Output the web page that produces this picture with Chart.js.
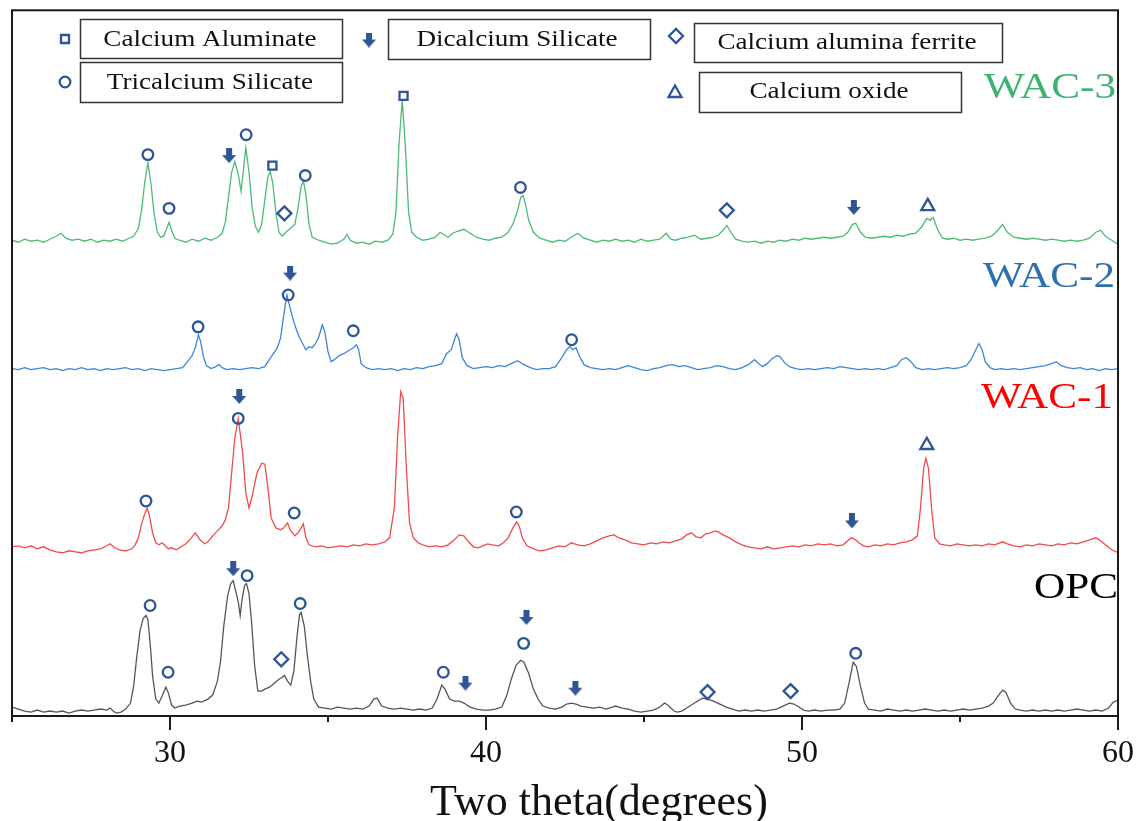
<!DOCTYPE html>
<html><head><meta charset="utf-8">
<script src="https://cdn.jsdelivr.net/npm/chart.js@4.4.1/dist/chart.umd.min.js"></script>
<style>html,body{margin:0;padding:0;background:#fff;}#wrap{width:1147px;height:821px;position:relative;}</style>
</head><body><div id="wrap"><canvas id="c"></canvas></div>
<script>
// ---------- DATA ----------
// two-theta (deg), relative intensity above each pattern's own baseline
const opc = [[25,4],[25.2,2],[25.4,0],[25.6,-1],[25.8,1],[26,-1],[26.2,0],[26.4,-1],[26.6,0],[26.8,-2],[27,0],[27.2,1],[27.4,0],[27.6,1],[27.8,2],[28.0,1],[28.1,3],[28.2,0],[28.3,-2],[28.45,-1],[28.6,2],[28.75,8],[28.85,25],[28.95,55],[29.05,80],[29.15,93],[29.24,96],[29.3,92],[29.38,65],[29.45,35],[29.55,12],[29.65,8],[29.75,15],[29.87,24],[29.95,18],[30.05,6],[30.15,3],[30.3,5],[30.5,6],[30.7,8],[30.85,10],[31.0,9],[31.2,12],[31.35,16],[31.5,30],[31.6,50],[31.7,85],[31.82,115],[31.92,128],[32.0,131],[32.1,118],[32.17,108],[32.22,96],[32.28,112],[32.36,126],[32.42,128],[32.5,118],[32.58,90],[32.68,45],[32.78,20],[32.9,20],[33.0,22],[33.15,24],[33.3,28],[33.45,32],[33.55,34],[33.62,36],[33.72,30],[33.82,26],[33.92,40],[34.02,75],[34.1,97],[34.15,99],[34.25,85],[34.35,55],[34.45,30],[34.55,12],[34.7,4],[34.9,3],[35.1,2],[35.3,4],[35.5,3],[35.7,2],[35.9,3],[36.1,2],[36.3,5],[36.45,12],[36.55,13],[36.7,5],[36.9,3],[37.1,2],[37.3,3],[37.5,2],[37.7,1],[37.9,2],[38.1,1],[38.3,3],[38.45,12],[38.6,26],[38.7,22],[38.85,12],[39.0,10],[39.15,10],[39.3,8],[39.5,4],[39.7,2],[39.9,1],[40.1,1],[40.3,2],[40.5,4],[40.65,15],[40.8,32],[40.95,46],[41.1,51],[41.2,49],[41.35,38],[41.5,22],[41.65,12],[41.8,5],[42.0,3],[42.2,2],[42.4,4],[42.55,7],[42.7,8],[42.85,7],[43.0,5],[43.2,4],[43.4,3],[43.6,4],[43.8,2],[44.0,4],[44.1,5],[44.3,3],[44.5,2],[44.7,0],[44.9,-1],[45.1,0],[45.3,1],[45.5,4],[45.65,8],[45.75,6],[45.85,3],[45.95,0],[46.05,-1],[46.2,0],[46.35,3],[46.5,6],[46.65,9],[46.85,13],[47.0,12],[47.2,10],[47.4,7],[47.6,4],[47.8,2],[48.0,0],[48.2,1],[48.4,0],[48.6,1],[48.8,0],[49.0,1],[49.2,2],[49.4,5],[49.6,8],[49.75,7],[49.9,4],[50.05,1],[50.2,0],[50.4,1],[50.6,0],[50.8,1],[51.0,1],[51.2,2],[51.35,8],[51.5,30],[51.62,49],[51.72,45],[51.85,25],[51.98,8],[52.1,2],[52.3,1],[52.5,0],[52.7,2],[52.9,1],[53.1,0],[53.3,1],[53.5,0],[53.7,1],[53.9,2],[54.1,1],[54.3,0],[54.5,1],[54.7,0],[54.9,1],[55.1,2],[55.3,1],[55.5,2],[55.7,3],[55.9,5],[56.05,8],[56.2,15],[56.35,21],[56.45,19],[56.6,8],[56.75,2],[56.9,1],[57.1,0],[57.3,1],[57.5,0],[57.7,1],[57.9,0],[58.1,1],[58.3,0],[58.5,1],[58.7,2],[58.9,1],[59.1,0],[59.3,1],[59.5,0],[59.7,3],[59.85,9],[60,11]];

const wac1 = [[25,1],[25.2,2],[25.4,0],[25.6,2],[25.8,-1],[26,1],[26.2,-2],[26.4,-4],[26.6,-5],[26.8,-3],[27,-4],[27.2,-5],[27.4,-3],[27.6,-2],[27.8,-1],[28.0,2],[28.1,4],[28.25,0],[28.4,-2],[28.6,-3],[28.8,-1],[28.9,3],[29.0,10],[29.1,24],[29.2,34],[29.28,40],[29.35,32],[29.45,15],[29.55,5],[29.65,3],[29.75,5],[29.85,2],[29.95,-1],[30.05,0],[30.2,-2],[30.35,1],[30.5,4],[30.65,9],[30.8,15],[30.95,8],[31.1,4],[31.2,6],[31.35,12],[31.5,17],[31.65,22],[31.75,28],[31.85,40],[31.95,75],[32.05,110],[32.16,130],[32.3,95],[32.4,55],[32.5,40],[32.6,52],[32.75,75],[32.9,85],[33.0,84],[33.1,60],[33.2,30],[33.35,20],[33.5,18],[33.6,20],[33.72,25],[33.8,18],[33.95,12],[34.05,15],[34.15,20],[34.22,24],[34.3,10],[34.4,3],[34.6,1],[34.8,2],[35.0,0],[35.2,1],[35.4,2],[35.6,1],[35.8,3],[36.0,2],[36.2,4],[36.4,3],[36.6,4],[36.8,6],[36.95,10],[37.1,40],[37.2,110],[37.3,157],[37.38,150],[37.48,80],[37.58,25],[37.7,10],[37.85,5],[38.0,3],[38.2,1],[38.4,2],[38.6,1],[38.8,3],[39.0,8],[39.15,13],[39.3,12],[39.45,6],[39.6,1],[39.75,0],[39.9,2],[40.05,4],[40.2,3],[40.4,2],[40.55,5],[40.7,10],[40.85,20],[40.97,26],[41.05,22],[41.15,10],[41.3,2],[41.5,-1],[41.7,-3],[41.9,-2],[42.1,0],[42.3,2],[42.5,1],[42.7,5],[42.9,3],[43.1,2],[43.3,4],[43.5,7],[43.7,10],[43.9,12],[44.05,13],[44.2,10],[44.4,8],[44.6,5],[44.8,4],[45.0,3],[45.2,5],[45.4,4],[45.6,6],[45.8,5],[46.0,7],[46.2,9],[46.35,13],[46.5,15],[46.65,11],[46.8,10],[46.95,14],[47.1,15],[47.25,17],[47.35,16],[47.5,13],[47.7,10],[47.9,6],[48.1,3],[48.3,1],[48.5,0],[48.7,-1],[48.9,1],[49.1,-1],[49.3,0],[49.5,1],[49.7,2],[49.9,1],[50.1,3],[50.3,2],[50.5,4],[50.7,3],[50.9,4],[51.1,2],[51.3,3],[51.45,7],[51.55,10],[51.65,9],[51.8,5],[51.95,2],[52.1,1],[52.3,3],[52.5,2],[52.7,4],[52.9,3],[53.1,5],[53.3,6],[53.5,8],[53.65,12],[53.75,40],[53.85,80],[53.92,90],[54.0,80],[54.1,40],[54.2,10],[54.35,4],[54.5,3],[54.7,2],[54.9,4],[55.1,3],[55.3,2],[55.5,3],[55.7,2],[55.9,4],[56.1,3],[56.35,6],[56.5,4],[56.7,2],[56.9,1],[57.1,3],[57.3,2],[57.5,4],[57.7,3],[57.9,2],[58.1,4],[58.3,3],[58.5,5],[58.7,4],[58.9,6],[59.1,8],[59.3,10],[59.45,7],[59.6,3],[59.8,-2],[60,-5]];

const wac2 = [[25,1],[25.2,0],[25.4,2],[25.6,0],[25.8,1],[26,2],[26.2,0],[26.4,1],[26.6,-1],[26.8,1],[27,0],[27.2,2],[27.4,0],[27.6,1],[27.8,-1],[28,1],[28.2,0],[28.4,1],[28.6,2],[28.8,0],[29,1],[29.2,-1],[29.4,1],[29.6,0],[29.8,-1],[30,0],[30.2,1],[30.4,2],[30.55,8],[30.7,14],[30.8,22],[30.9,35],[30.97,28],[31.05,14],[31.15,4],[31.3,1],[31.45,3],[31.55,5],[31.65,2],[31.8,0],[32,1],[32.2,0],[32.4,1],[32.6,2],[32.8,1],[33.0,3],[33.1,8],[33.25,15],[33.4,22],[33.5,32],[33.6,55],[33.7,75],[33.8,62],[33.9,50],[34.0,40],[34.1,32],[34.2,26],[34.3,20],[34.4,23],[34.5,22],[34.6,26],[34.7,32],[34.82,45],[34.9,38],[35.0,18],[35.1,8],[35.2,10],[35.35,14],[35.5,16],[35.65,19],[35.8,22],[35.9,25],[35.97,20],[36.05,6],[36.2,2],[36.4,0],[36.6,1],[36.8,0],[37.0,1],[37.2,-1],[37.4,1],[37.6,0],[37.8,2],[38.0,1],[38.2,3],[38.4,4],[38.6,6],[38.75,16],[38.9,20],[39.0,30],[39.07,36],[39.15,30],[39.25,12],[39.4,4],[39.6,1],[39.8,2],[40.0,3],[40.2,2],[40.4,4],[40.6,3],[40.8,6],[41.0,9],[41.2,5],[41.4,2],[41.6,0],[41.8,1],[42.0,1],[42.2,3],[42.4,12],[42.55,20],[42.65,23],[42.75,20],[42.85,22],[42.95,14],[43.1,5],[43.3,2],[43.5,1],[43.7,0],[43.9,1],[44.1,0],[44.3,2],[44.5,4],[44.7,2],[44.9,0],[45.1,-1],[45.3,1],[45.5,2],[45.7,4],[45.9,5],[46.1,3],[46.3,4],[46.5,2],[46.7,0],[46.9,1],[47.1,2],[47.3,4],[47.5,3],[47.7,1],[47.9,0],[48.1,2],[48.3,5],[48.5,10],[48.6,7],[48.75,3],[48.9,6],[49.05,11],[49.2,14],[49.3,13],[49.45,7],[49.6,3],[49.8,1],[50.0,0],[50.2,1],[50.4,0],[50.6,1],[50.8,2],[51.0,1],[51.2,3],[51.4,2],[51.6,1],[51.8,0],[52.0,1],[52.2,0],[52.4,1],[52.6,0],[52.8,2],[53.0,4],[53.15,10],[53.3,12],[53.45,8],[53.6,2],[53.8,0],[54.0,1],[54.2,0],[54.4,1],[54.6,2],[54.8,1],[55.0,2],[55.2,4],[55.35,10],[55.5,20],[55.6,26],[55.7,20],[55.8,8],[55.95,2],[56.1,0],[56.3,1],[56.5,0],[56.7,1],[56.9,0],[57.1,1],[57.3,2],[57.5,3],[57.7,4],[57.9,6],[58.05,8],[58.2,4],[58.4,2],[58.6,1],[58.8,2],[59.0,0],[59.2,1],[59.4,-1],[59.6,1],[59.8,0],[60,1]];

const wac3 = [[25,2],[25.2,0],[25.4,3],[25.6,1],[25.8,2],[26,0],[26.2,3],[26.4,6],[26.55,9],[26.7,4],[26.9,2],[27.1,3],[27.3,1],[27.5,3],[27.7,0],[27.9,2],[28.1,1],[28.3,3],[28.5,1],[28.7,4],[28.85,6],[29.0,14],[29.1,32],[29.2,60],[29.3,80],[29.4,58],[29.5,28],[29.6,10],[29.7,5],[29.8,6],[29.9,14],[29.97,20],[30.05,12],[30.15,4],[30.3,2],[30.5,0],[30.7,3],[30.9,1],[31.1,4],[31.3,2],[31.5,5],[31.65,9],[31.75,20],[31.85,45],[31.95,70],[32.05,81],[32.15,70],[32.25,51],[32.33,75],[32.4,95],[32.5,70],[32.6,35],[32.7,16],[32.8,10],[32.9,18],[33.0,42],[33.1,66],[33.17,71],[33.25,60],[33.35,30],[33.45,10],[33.55,6],[33.7,11],[33.85,15],[33.95,18],[34.05,34],[34.15,56],[34.22,62],[34.3,48],[34.4,18],[34.5,5],[34.7,2],[34.9,0],[35.1,-2],[35.3,-1],[35.5,3],[35.6,8],[35.7,2],[35.9,-1],[36.1,0],[36.3,-2],[36.5,1],[36.7,0],[36.9,2],[37.05,8],[37.15,30],[37.25,100],[37.35,143],[37.45,95],[37.55,30],[37.65,10],[37.8,5],[38.0,2],[38.2,3],[38.4,5],[38.55,10],[38.65,8],[38.8,5],[38.95,9],[39.1,11],[39.3,13],[39.5,9],[39.7,5],[39.9,3],[40.1,2],[40.3,4],[40.5,5],[40.7,10],[40.85,18],[41.0,32],[41.1,45],[41.17,47],[41.25,38],[41.35,22],[41.5,10],[41.7,4],[41.9,2],[42.1,0],[42.3,2],[42.5,1],[42.7,5],[42.9,9],[43.1,4],[43.3,2],[43.5,0],[43.7,2],[43.9,1],[44.1,3],[44.3,1],[44.5,2],[44.7,0],[44.9,3],[45.1,1],[45.3,2],[45.5,3],[45.7,9],[45.85,3],[46.0,2],[46.2,4],[46.4,5],[46.6,7],[46.8,3],[47.0,4],[47.2,5],[47.35,7],[47.5,12],[47.62,17],[47.75,10],[47.9,3],[48.1,1],[48.3,0],[48.5,1],[48.7,-1],[48.9,1],[49.1,0],[49.3,2],[49.5,1],[49.7,3],[49.9,2],[50.1,4],[50.3,3],[50.5,4],[50.7,5],[50.9,4],[51.1,5],[51.3,6],[51.45,10],[51.6,18],[51.7,19],[51.85,10],[52.0,5],[52.2,4],[52.4,5],[52.6,6],[52.8,5],[53.0,7],[53.2,6],[53.4,8],[53.6,9],[53.8,16],[53.95,24],[54.05,22],[54.15,25],[54.3,12],[54.45,4],[54.6,3],[54.8,4],[55.0,2],[55.2,3],[55.4,2],[55.6,3],[55.8,4],[56.0,6],[56.2,12],[56.35,18],[56.5,10],[56.7,5],[56.9,4],[57.1,3],[57.3,4],[57.5,3],[57.7,2],[57.9,3],[58.1,2],[58.3,1],[58.5,2],[58.7,1],[58.9,2],[59.1,4],[59.3,10],[59.45,12],[59.6,6],[59.8,2],[60,-2]];

// vertical stacking offsets of each pattern
const seriesNames = ['WAC-3', 'WAC-2', 'WAC-1', 'OPC'];
const seriesData = [wac3, wac2, wac1, opc];
const seriesOffsets = [476, 348, 169, 5];

// phase markers: [two-theta, stacked height]
const circleMarks = [[29.3,564],[29.97,510],[32.41,584],[34.28,543],[41.09,531],[30.89,391],[33.74,423],[35.8,387],[42.71,378],[29.24,216],[32.16,299],[33.93,204],[40.96,205],[29.37,111],[29.94,44],[32.44,141],[34.12,113],[38.65,44],[41.19,73],[51.7,63]];
const squareMarks = [[33.24,553],[37.39,623]];
const diamondMarks = [[33.62,505],[47.62,508],[33.52,57],[47.01,24],[49.64,25]];
const triangleMarks = [[53.98,512],[53.95,272]];
const arrowMarks = [[31.87,563],[51.64,511],[33.8,445],[32.19,321],[51.58,196],[32.0,148],[39.35,33],[41.28,99],[42.83,28]];

const legendLabels = ['Calcium Aluminate', 'Dicalcium Silicate', 'Calcium alumina ferrite', 'Tricalcium Silicate', 'Calcium oxide'];
const legendSymbols = ['rect', 'arrow', 'rectRot', 'circle', 'triangle'];

const xTickValues = [25, 30, 35, 40, 45, 50, 55, 60];
const xTickLabels = [30, 40, 50, 60];
const xTitle = 'Two theta(degrees)';

// ---------- STYLE ----------
const MARK = '#2f5597';
const lineColors = ['#4dbb78', '#3d85dc', '#f24a4a', '#555555'];
const labelColors = ['#3cb371', '#2e6fae', '#ff0000', '#000000'];
const SERIF = '"Liberation Serif", "Times New Roman", serif';
const legendLayout = [
  {x:80, y:19, w:262, h:39, mx:65, my:39, tx:210, ty:46},
  {x:388, y:19, w:262, h:40, mx:369, my:40, tx:517, ty:46},
  {x:694, y:23, w:308, h:39, mx:676, my:36, tx:847, ty:49},
  {x:80, y:62, w:262, h:40, mx:65, my:82, tx:210, ty:89},
  {x:699, y:72, w:262, h:40, mx:675, my:92, tx:829, ty:98}
];
const seriesLabelLayout = [[1116, 98], [1115, 287], [1113, 408], [1118, 598]];
const titleLayout = {cx: 599, baseline: 815, size: 44};

function makeArrow() {
  const c = document.createElement('canvas');
  c.width = 14; c.height = 15;
  const g = c.getContext('2d');
  g.fillStyle = MARK;
  g.fillRect(4, 0, 6, 8);
  g.beginPath(); g.moveTo(0, 7); g.lineTo(14, 7); g.lineTo(7, 15); g.closePath(); g.fill();
  return c;
}
const ARROW = makeArrow();

function drawSym(ctx, type, x, y) {
  ctx.save();
  ctx.strokeStyle = MARK; ctx.lineWidth = 2.3;
  ctx.beginPath();
  if (type === 'rect') { ctx.rect(x - 4, y - 4, 8, 8); ctx.stroke(); }
  else if (type === 'circle') { ctx.arc(x, y, 5.3, 0, Math.PI * 2); ctx.stroke(); }
  else if (type === 'rectRot') { ctx.moveTo(x - 7, y); ctx.lineTo(x, y - 7); ctx.lineTo(x + 7, y); ctx.lineTo(x, y + 7); ctx.closePath(); ctx.stroke(); }
  else if (type === 'triangle') { ctx.moveTo(x, y - 6.5); ctx.lineTo(x + 6.5, y + 5); ctx.lineTo(x - 6.5, y + 5); ctx.closePath(); ctx.stroke(); }
  else if (type === 'arrow') { ctx.drawImage(ARROW, x - 7, y - 7.5); }
  ctx.restore();
}

function stretchText(ctx, text, x, y, size, sx, align, color) {
  ctx.save();
  ctx.translate(x, y); ctx.scale(sx, 1);
  ctx.font = size + 'px ' + SERIF;
  ctx.fillStyle = color; ctx.textAlign = align; ctx.textBaseline = 'alphabetic';
  ctx.fillText(text, 0, 0);
  ctx.restore();
}

const decor = {
  id: 'decor',
  afterDraw(chart) {
    const ctx = chart.ctx, a = chart.chartArea, xs = chart.scales.x;
    ctx.save();
    // frame
    ctx.strokeStyle = '#1a1a1a'; ctx.lineWidth = 2;
    ctx.strokeRect(a.left, a.top, a.right - a.left, a.bottom - a.top);
    // tick marks (outside)
    xTickValues.forEach(v => {
      const px = Math.round(xs.getPixelForValue(v));
      const len = xTickLabels.includes(v) ? 14 : 6;
      ctx.beginPath(); ctx.moveTo(px, a.bottom); ctx.lineTo(px, a.bottom + len); ctx.stroke();
    });
    // axis title
    stretchText(ctx, xTitle, titleLayout.cx, titleLayout.baseline, titleLayout.size, 1, 'center', '#111');
    // legend boxes
    legendLabels.forEach((t, i) => {
      const L = legendLayout[i];
      ctx.fillStyle = '#fff'; ctx.fillRect(L.x, L.y, L.w, L.h);
      ctx.strokeStyle = '#333'; ctx.lineWidth = 1.5;
      ctx.strokeRect(L.x + 0.5, L.y + 0.5, L.w, L.h);
      stretchText(ctx, t, L.tx, L.ty, 23, 1.18, 'center', '#111');
      drawSym(ctx, legendSymbols[i], L.mx, L.my);
    });
    // series names
    seriesNames.forEach((n, i) => {
      const p = seriesLabelLayout[i];
      stretchText(ctx, n, p[0], p[1], 36, 1.2, 'right', labelColors[i]);
    });
    ctx.restore();
  }
};

const pts = a => a.map(p => ({x: p[0], y: p[1]}));
const markerSet = (arr, style, r) => ({
  type: 'scatter', data: pts(arr), showLine: false, pointStyle: style, pointRadius: r,
  pointBorderColor: MARK, pointBackgroundColor: 'rgba(0,0,0,0)', pointBorderWidth: 2.3, borderColor: MARK
});

const datasets = [
  markerSet(circleMarks, 'circle', 5.3),
  markerSet(squareMarks, 'rect', 5.7),
  markerSet(diamondMarks, 'rectRot', 7),
  markerSet(triangleMarks, 'triangle', 7.5),
  markerSet(arrowMarks, ARROW, 8)
];
seriesData.forEach((s, i) => {
  datasets.push({
    type: 'line', label: seriesNames[i],
    data: s.map(p => ({x: p[0], y: p[1] + seriesOffsets[i]})),
    borderColor: lineColors[i], borderWidth: 1.3, pointRadius: 0, tension: 0, fill: false
  });
});

new Chart(document.getElementById('c'), {
  type: 'line',
  data: {datasets},
  options: {
    responsive: true, maintainAspectRatio: false, animation: false,
    layout: {padding: {left: 12, right: 29, top: 5, bottom: 0}},
    plugins: {legend: {display: false}, tooltip: {enabled: false}},
    scales: {
      x: {
        type: 'linear', min: 25, max: 60,
        afterBuildTicks: s => { s.ticks = xTickValues.map(v => ({value: v})); },
        afterFit: s => { s.height = 105; },
        grid: {display: true, drawOnChartArea: false, drawTicks: true, tickLength: 18, tickColor: 'rgba(0,0,0,0)', color: 'rgba(0,0,0,0)'},
        border: {display: false},
        ticks: {
          autoSkip: false, maxRotation: 0, padding: 0, color: '#111',
          font: {family: SERIF, size: 32},
          callback: v => xTickLabels.includes(v) ? String(v) : ''
        },
        title: {display: false}
      },
      y: {type: 'linear', min: 0, max: 709, display: false}
    }
  },
  plugins: [decor]
});
</script></body></html>
